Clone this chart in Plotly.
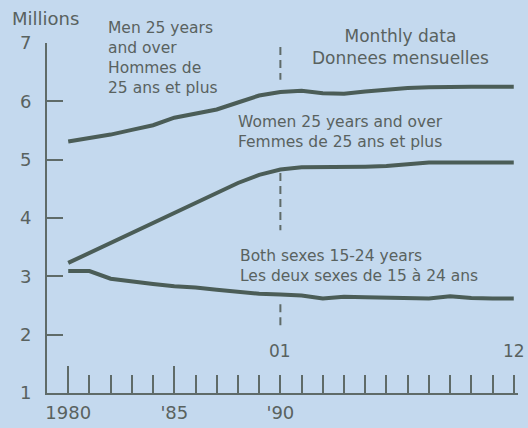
import plotly.graph_objects as go

# ---- data ----
years = ["1980", "1981", "1982", "1983", "1984", "1985", "1986", "1987", "1988", "1989", "1990"]
months = ["01", "02", "03", "04", "05", "06", "07", "08", "09", "10", "11", "12"]

men_annual = [5.31, 5.37, 5.43, 5.51, 5.59, 5.72, 5.79, 5.86, 5.98, 6.10, 6.16]
men_monthly = [6.16, 6.18, 6.14, 6.13, 6.17, 6.20, 6.23, 6.24, 6.25, 6.25, 6.25, 6.25]

women_annual = [3.23, 3.40, 3.57, 3.74, 3.91, 4.08, 4.26, 4.43, 4.60, 4.74, 4.83]
women_monthly = [4.83, 4.87, 4.87, 4.87, 4.88, 4.89, 4.92, 4.95, 4.95, 4.95, 4.95, 4.95]

youth_annual = [3.09, 3.09, 2.96, 2.91, 2.87, 2.83, 2.81, 2.77, 2.73, 2.70, 2.69]
youth_monthly = [2.69, 2.67, 2.62, 2.65, 2.64, 2.63, 2.62, 2.62, 2.66, 2.63, 2.62, 2.62]

x_labels = {0: "1980", 5: "'85", 10: "'90"}
y_ticks = [1, 2, 3, 4, 5, 6, 7]

# ---- positions ----
annual_x = list(range(len(years)))
monthly_x = [len(years) - 1 + i for i in range(len(months))]
all_x = annual_x + monthly_x
split_x = len(years) - 1
X_RANGE = [-1, 21.2]

BG = "#c4d9ee"
LINE = "#4b5d57"
AXIS = "#5f6b68"
TXT = "#59625f"
FONT = "DejaVu Sans"

fig = go.Figure()
series = [(men_annual, men_monthly, "x"), (women_annual, women_monthly, "x"),
          (youth_annual, youth_monthly, "x2")]
for ann, mon, xa in series:
    fig.add_trace(go.Scatter(
        x=all_x, y=ann + mon, mode="lines", xaxis=xa, yaxis="y",
        line=dict(color=LINE, width=4), showlegend=False, hoverinfo="skip",
    ))

# dashed separator segments
for y0, y1 in [(6.93, 6.37), (4.77, 3.79), (2.52, 2.13)]:
    fig.add_shape(type="line", xref="x", yref="y", x0=split_x, x1=split_x, y0=y0, y1=y1,
                  line=dict(color=AXIS, width=2, dash="8px,5px"))

tick_x = annual_x + monthly_x[1:]
ticktext = [x_labels.get(i, "") for i in tick_x]

fig.update_layout(
    width=528, height=428, autosize=False,
    margin=dict(l=47, r=10, t=43, b=35),
    paper_bgcolor=BG, plot_bgcolor=BG,
    font=dict(family=FONT, color=TXT),
    xaxis=dict(
        range=X_RANGE, showgrid=False, zeroline=False, automargin=False,
        showline=True, linecolor=AXIS, linewidth=2,
        ticks="inside", ticklen=18, tickwidth=2, tickcolor=AXIS,
        tickvals=tick_x, ticktext=ticktext,
        tickfont=dict(size=18, color=TXT, family=FONT),
        ticklabelstandoff=2,
    ),
    xaxis2=dict(
        range=X_RANGE, overlaying="x", anchor="y", side="bottom", automargin=False,
        showgrid=False, zeroline=False, showline=False,
        ticks="inside", ticklen=27, tickwidth=2, tickcolor=AXIS,
        tickvals=[0, 5], showticklabels=False,
    ),
    yaxis=dict(
        range=[1, 7], showgrid=False, zeroline=False, automargin=False,
        showline=True, linecolor=AXIS, linewidth=2,
        ticks="inside", ticklen=16, tickwidth=2, tickcolor=AXIS,
        tickvals=y_ticks, ticktext=[str(v) for v in y_ticks],
        tickfont=dict(size=18, color=TXT, family=FONT),
        ticklabelstandoff=10,
    ),
)

def px_x(px):
    return (px - 47) / 471.0

def px_y(py):
    return (393 - py) / 350.0

notes = [
    ("Millions", 10, 18, "left", 18),
    ("Men 25 years<br>and over<br>Hommes de<br>25 ans et plus", 106, 58, "left", 15.5),
    ("Monthly data<br>Donnees mensuelles", 400, 47, "center", 17),
    ("Women 25 years and over<br>Femmes de 25 ans et plus", 236, 132, "left", 15.5),
    ("Both sexes 15-24 years<br>Les deux sexes de 15 à 24 ans", 238, 266, "left", 15.5),
]
for text, x, y, align, size in notes:
    fig.add_annotation(
        text=text, xref="paper", yref="paper", x=px_x(x), y=px_y(y),
        xanchor=align, yanchor="middle", align=align, showarrow=False,
        font=dict(size=size, color=TXT, family=FONT),
    )

for lbl, xi in [(months[0], monthly_x[0]), (months[-1], monthly_x[-1])]:
    fig.add_annotation(
        text=lbl, xref="x", yref="paper", x=xi, y=px_y(351),
        xanchor="center", yanchor="middle", showarrow=False,
        font=dict(size=17, color=TXT, family=FONT),
    )

fig.write_html(
    "out.html",
    config={"displayModeBar": False},
    post_script="document.body.style.margin='0';document.body.style.background='%s';" % BG,
)
